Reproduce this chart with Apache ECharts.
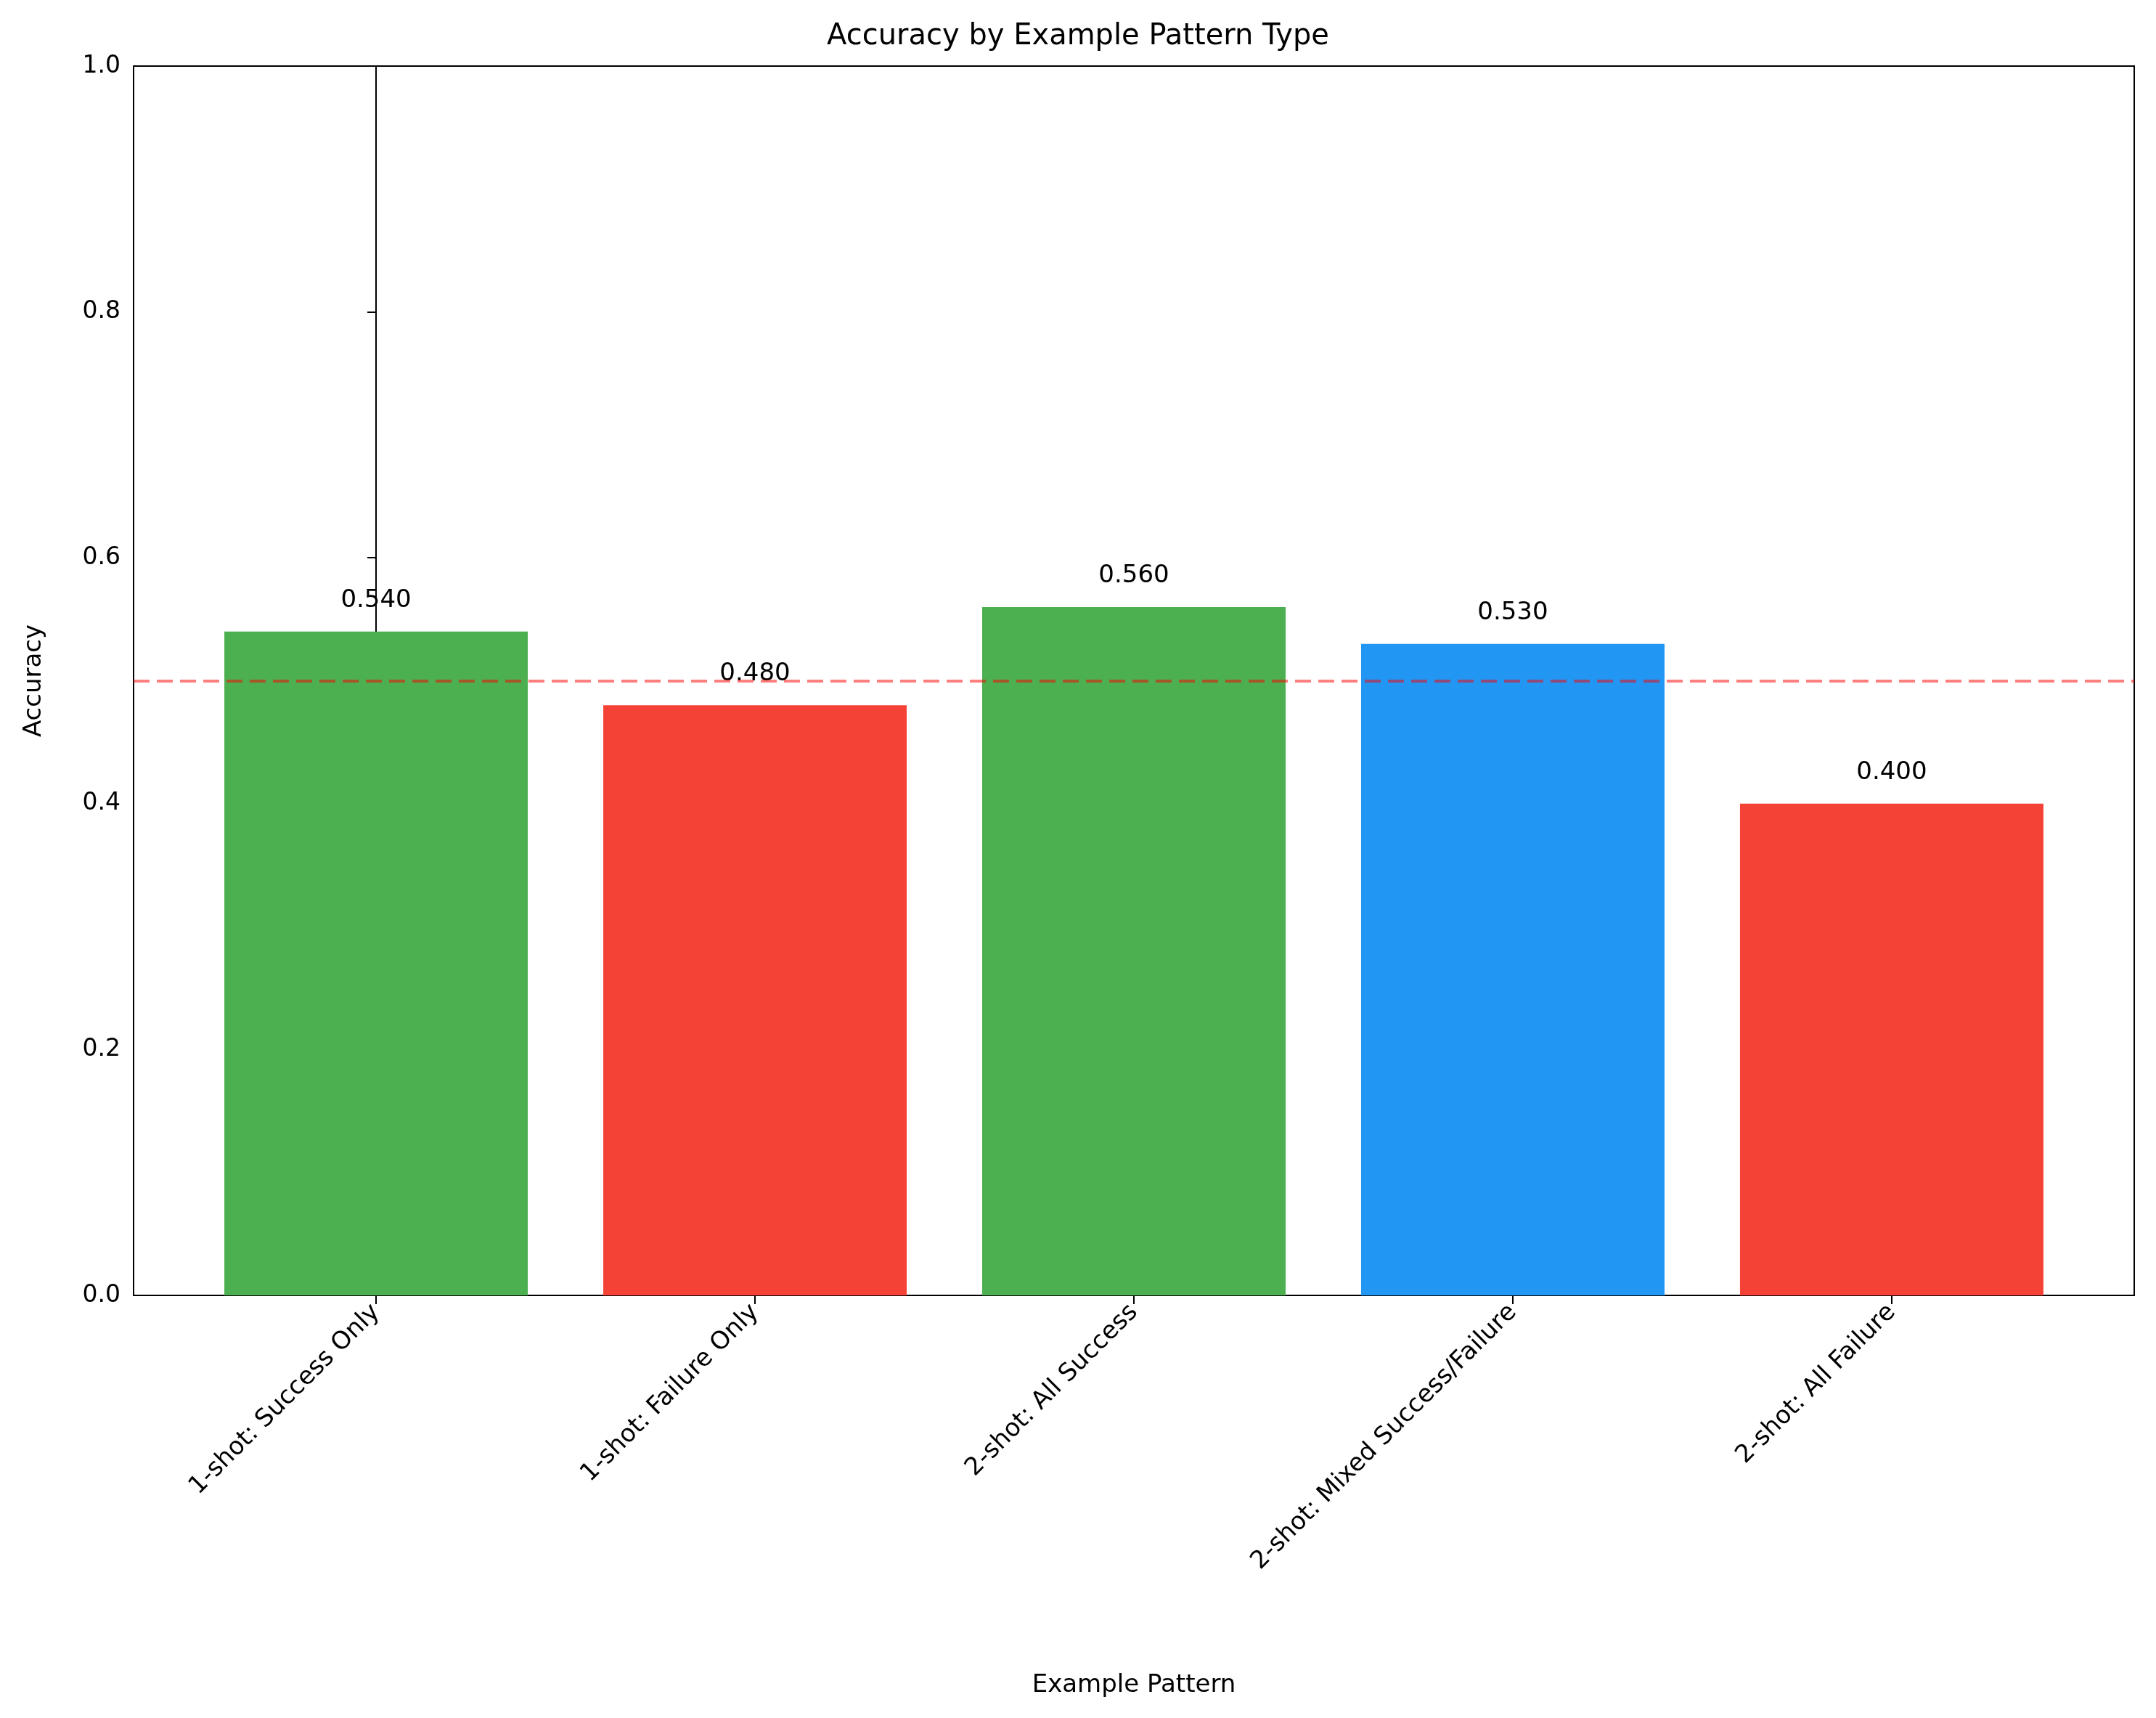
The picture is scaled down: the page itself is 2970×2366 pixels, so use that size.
<!DOCTYPE html>
<html><head><meta charset="utf-8">
<script src="https://cdn.jsdelivr.net/npm/echarts@6/dist/echarts.min.js"></script>
<style>html,body{margin:0;padding:0;background:#fff}#c{width:2970px;height:2366px}</style>
</head><body><div id="c"></div>
<script>
const categories = ["1-shot: Success Only","1-shot: Failure Only","2-shot: All Success","2-shot: Mixed Success/Failure","2-shot: All Failure"];
const values = [0.54, 0.48, 0.56, 0.53, 0.40];
const colors = ["#4CAF50","#F44336","#4CAF50","#2196F3","#F44336"];
const baseline = 0.5;
const font = "DejaVu Sans";
const gridLeft = 184, gridRight = 30;
const plotW = 2970 - gridLeft - gridRight;
const xMin = -0.64, xMax = 4.64;
const chart = echarts.init(document.getElementById('c'));
chart.setOption({
  animation:false,
  title:{text:"Accuracy by Example Pattern Type",left:'center',top:26,textStyle:{fontFamily:font,fontSize:40,fontWeight:'normal',color:'#000'}},
  grid:{left:gridLeft,right:gridRight,top:91,bottom:582,show:true,borderColor:'#000',borderWidth:2,backgroundColor:'transparent'},
  xAxis:{type:'value',min:xMin,max:xMax,name:'Example Pattern',nameLocation:'middle',nameGap:520,
    nameTextStyle:{fontFamily:font,fontSize:34,color:'#000'},
    splitLine:{show:false},
    axisLine:{lineStyle:{color:'#000',width:2}},
    axisTick:{show:true,length:12,lineStyle:{color:'#000',width:2},customValues:categories.map((c,i)=>i)},
    axisLabel:{rotate:45,fontFamily:font,fontSize:34,color:'#000',margin:18,customValues:categories.map((c,i)=>i),formatter:v=>categories[Math.round(v)]}},
  yAxis:{type:'value',min:0,max:1,interval:0.2,name:'Accuracy',nameLocation:'middle',nameGap:120,
    nameTextStyle:{fontFamily:font,fontSize:34,color:'#000'},
    axisLine:{show:true,lineStyle:{color:'#000',width:2}},axisTick:{show:true,length:12,lineStyle:{color:'#000',width:2}},
    splitLine:{show:false},
    axisLabel:{fontFamily:font,fontSize:33,color:'#000',margin:18,formatter:v=>v.toFixed(1)}},
  series:[{type:'bar',barWidth:Math.round(0.8/(xMax-xMin)*plotW),
    data:values.map((v,i)=>({value:[i,v],itemStyle:{color:colors[i]}})),
    label:{show:true,position:'top',distance:26,fontFamily:font,fontSize:34,color:'#000',formatter:p=>p.value[1].toFixed(3)},
    markLine:{silent:true,symbol:'none',label:{show:false},
      lineStyle:{color:'rgba(255,0,0,0.5)',type:[22,10],width:4},data:[{yAxis:baseline}]}}]
});
</script></body></html>
